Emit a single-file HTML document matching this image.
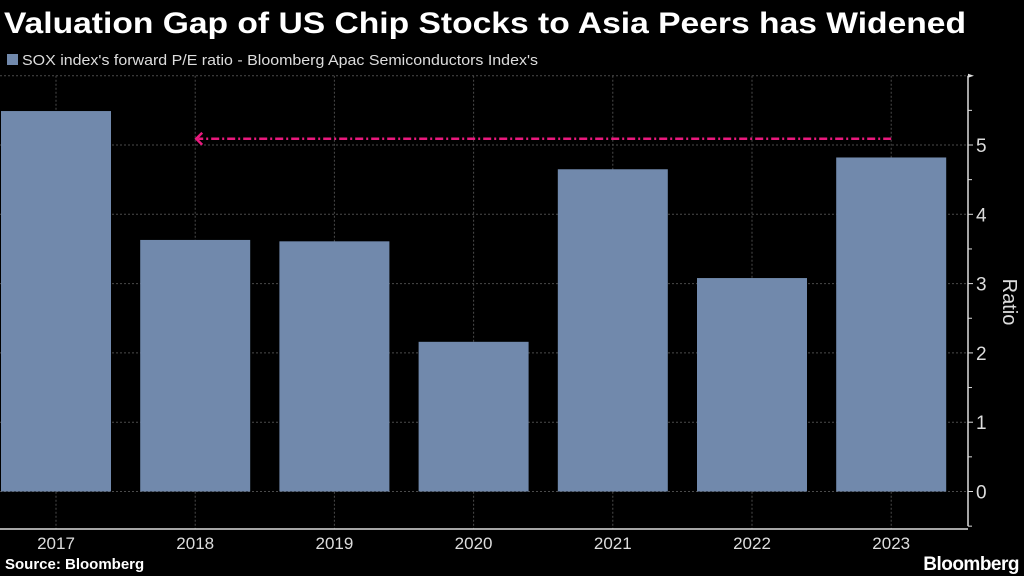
<!DOCTYPE html>
<html><head><meta charset="utf-8"><style>
html,body{margin:0;padding:0;background:#000;}
svg{display:block;font-family:"Liberation Sans","DejaVu Sans",sans-serif;}
</style></head><body>
<svg id="chart" width="1024" height="576" viewBox="0 0 1024 576">
<text x="4" y="33" fill="#fff" font-size="30" font-weight="bold" textLength="962" lengthAdjust="spacingAndGlyphs">Valuation Gap of US Chip Stocks to Asia Peers has Widened</text>
<rect x="7" y="54" width="11" height="11" fill="#7189ac"/>
<text x="22" y="65" fill="#ddd" font-size="14.5" textLength="516" lengthAdjust="spacingAndGlyphs">SOX index's forward P/E ratio - Bloomberg Apac Semiconductors Index's</text>
<g id="grid"></g><g id="bars"></g><g id="axes"></g>
<text x="0" y="0" transform="translate(1003,302) rotate(90)" fill="#ddd" font-size="20" text-anchor="middle">Ratio</text>
<text x="5" y="569" fill="#fff" font-size="15" font-weight="bold">Source: Bloomberg</text>
<text x="1019" y="570" fill="#fff" font-size="19" font-weight="bold" text-anchor="end" letter-spacing="-0.5">Bloomberg</text>
</svg>
<script>
const categories=["2017","2018","2019","2020","2021","2022","2023"];
const values=[5.49,3.63,3.61,2.16,4.65,3.08,4.82];
const yTicks=[0,1,2,3,4,5];
const arrowLevel=5.09;
const NS="http://www.w3.org/2000/svg";
function y(v){return 491.5-v*69.3;}
function x(i){return 56+139.2*i;}
function mk(t,a,p){const e=document.createElementNS(NS,t);for(const k in a)e.setAttribute(k,a[k]);p.appendChild(e);return e;}
const grid=document.getElementById('grid'),bars=document.getElementById('bars'),axes=document.getElementById('axes');
for(let v=0;v<=6;v++){const g=mk('line',{x1:0,x2:968,y1:y(v),y2:y(v),stroke:'#4a4a4a','stroke-dasharray':'2,2'},grid);

}
categories.forEach((c,i)=>{const g=mk('line',{x1:x(i),x2:x(i),y1:y(6),y2:529,stroke:'#4a4a4a','stroke-dasharray':'2,2'},grid);


const b=mk('rect',{x:x(i)-55,y:y(values[i]),width:110,height:y(0)-y(values[i]),fill:'#7189ac'},bars);


const t=mk('text',{x:x(i),y:549,fill:'#ddd','font-size':17,'text-anchor':'middle'},axes);t.textContent=c;

});
const xl=mk('line',{x1:0,x2:968,y1:529,y2:529,stroke:'#ddd','stroke-width':1.5},axes);


const yl=mk('line',{x1:968,x2:968,y1:y(6),y2:y(-0.5),stroke:'#ddd','stroke-width':1.5},axes);


const ar=mk('path',{d:`M968 ${y(6)-2} L974 ${y(6)} L968 ${y(6)+2}Z`,fill:'#ddd'},axes);


for(let v=-0.5;v<6;v+=0.5){const tk=mk('line',{x1:968,x2:v%1===0?973:972,y1:y(v),y2:y(v),stroke:'#ddd'},axes);

}
yTicks.forEach(v=>{const t=mk('text',{x:976,y:y(v)+7,fill:'#ddd','font-size':19},axes);t.textContent=v;

});
const py=y(arrowLevel);
const pl=mk('line',{x1:x(6),x2:x(1)+3,y1:py,y2:py,stroke:'#e8197d','stroke-width':2.5,'stroke-dasharray':'8,3,2,3'},axes);


const ph=mk('path',{d:`M${x(1)+7} ${py-6} L${x(1)+1} ${py} L${x(1)+7} ${py+6}`,stroke:'#e8197d','stroke-width':2.5,fill:'none'},axes);


</script>
</body></html>
